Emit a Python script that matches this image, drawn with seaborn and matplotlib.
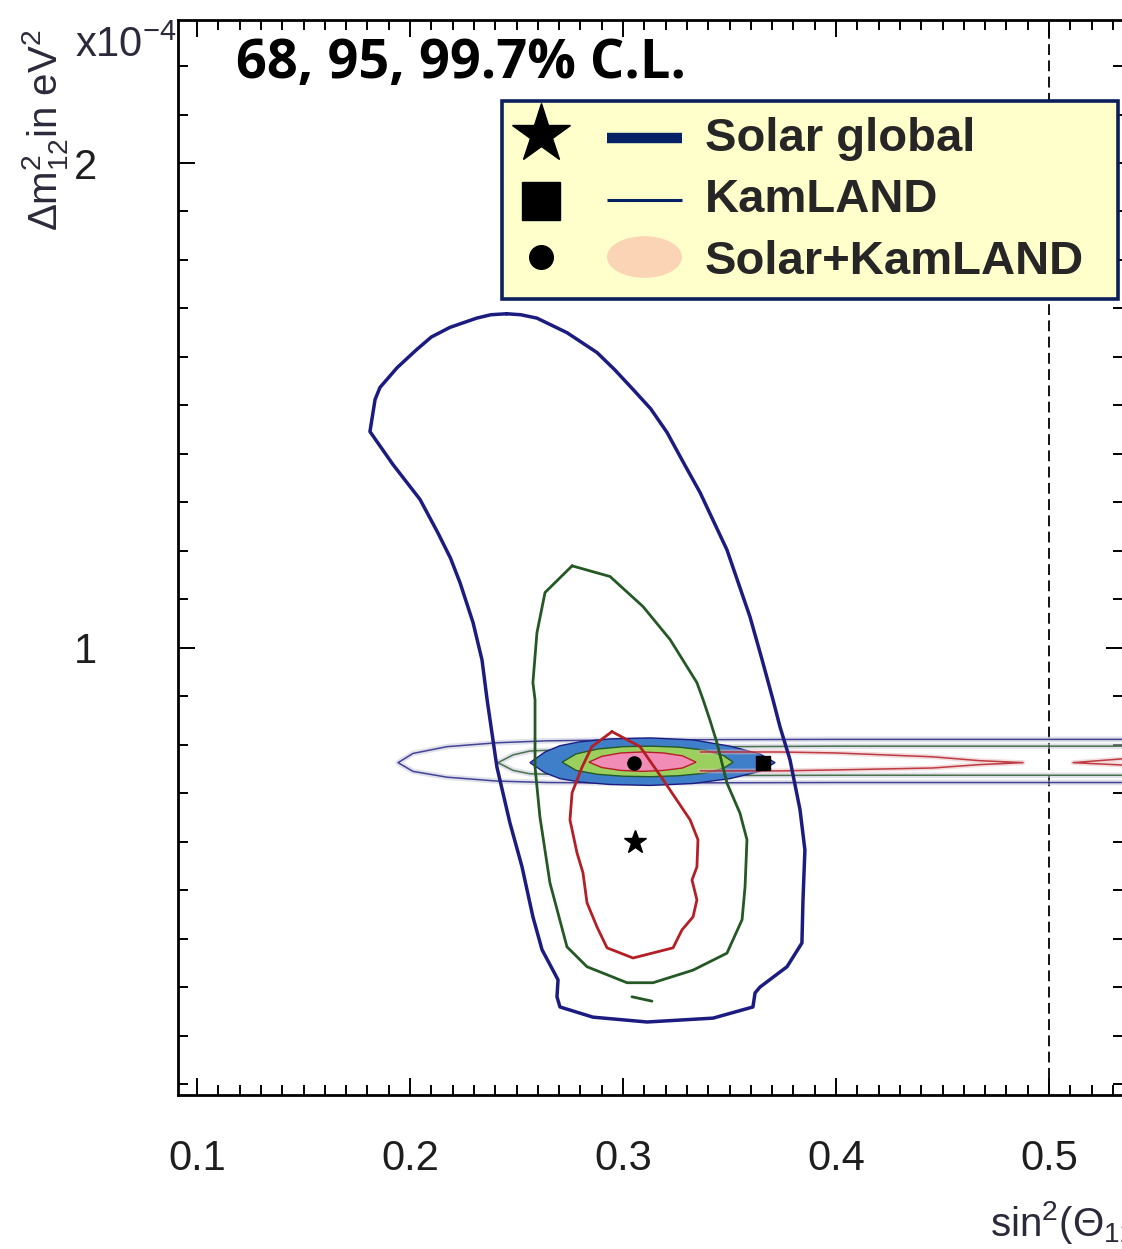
import numpy as np
import pandas as pd
import matplotlib
matplotlib.use("Agg")
import matplotlib.pyplot as plt
import seaborn as sns
from matplotlib import font_manager
from matplotlib.legend_handler import HandlerBase
from matplotlib.lines import Line2D
from matplotlib.patches import Ellipse
from matplotlib.ticker import MultipleLocator, FixedLocator

# ---------------------------------------------------------------------------
# Allowed regions in the (sin^2 theta12, dm^2_21 [1e-4 eV^2]) plane
# ---------------------------------------------------------------------------
# Solar global, 99.7% C.L.
solar997_x = [0.2454, 0.2380, 0.2313, 0.2188, 0.2100, 0.2031, 0.1940, 0.1859, 0.1836,
              0.1812, 0.1920, 0.2047, 0.2131, 0.2190, 0.2235, 0.2296, 0.2338, 0.2362,
              0.2408, 0.2469, 0.2526, 0.2577, 0.2620, 0.2695, 0.2690, 0.2704, 0.2859,
              0.3113, 0.3423, 0.3610, 0.3620, 0.3643, 0.3770, 0.3840, 0.3845, 0.3854,
              0.3831, 0.3784, 0.3737, 0.3704, 0.3650, 0.3596, 0.3488, 0.3362, 0.3280,
              0.3207, 0.3130, 0.3047, 0.2960, 0.2878, 0.2737, 0.2596, 0.2520]
solar997_y = [1.689, 1.687, 1.680, 1.661, 1.641, 1.615, 1.578, 1.537, 1.512,
              1.446, 1.378, 1.306, 1.237, 1.185, 1.134, 1.052, 0.975, 0.893,
              0.754, 0.639, 0.548, 0.445, 0.377, 0.315, 0.280, 0.259, 0.238,
              0.228, 0.236, 0.259, 0.288, 0.300, 0.342, 0.391, 0.480, 0.583,
              0.666, 0.769, 0.837, 0.893, 0.980, 1.064, 1.202, 1.320, 1.385,
              1.444, 1.493, 1.533, 1.574, 1.609, 1.650, 1.680, 1.687]

# Solar global, 95% C.L. (main region and a small island)
solar95_x = [0.2761, 0.2634, 0.2596, 0.2577, 0.2587, 0.2587, 0.2610, 0.2657, 0.2737,
             0.2831, 0.3019, 0.3141, 0.3329, 0.3488, 0.3559, 0.3573, 0.3582, 0.3549,
             0.3488, 0.3441, 0.3408, 0.3376, 0.3347, 0.3221, 0.3094, 0.2939]
solar95_y = [1.169, 1.114, 1.031, 0.928, 0.893, 0.754, 0.651, 0.515, 0.383,
             0.342, 0.309, 0.309, 0.335, 0.370, 0.439, 0.507, 0.604, 0.659,
             0.721, 0.804, 0.851, 0.893, 0.928, 1.017, 1.085, 1.147]
solar95_island_x = [0.3042, 0.3136]
solar95_island_y = [0.280, 0.271]

# Solar global, 68% C.L.
solar68_x = [0.2948, 0.2854, 0.2808, 0.2761, 0.2751, 0.2784, 0.2812, 0.2831, 0.2878,
             0.2925, 0.3047, 0.3235, 0.3277, 0.3329, 0.3347, 0.3324, 0.3347, 0.3352,
             0.3315, 0.3188, 0.3080]
solar68_y = [0.827, 0.796, 0.754, 0.701, 0.645, 0.577, 0.536, 0.474, 0.424,
             0.381, 0.360, 0.381, 0.418, 0.445, 0.480, 0.521, 0.548, 0.604,
             0.645, 0.728, 0.796]

# KamLAND (open towards large mixing)
kam997_x = [0.56, 0.40, 0.30, 0.2643, 0.2408, 0.2174, 0.2014, 0.1944,
            0.2014, 0.2174, 0.2408, 0.2643, 0.30, 0.40, 0.56]
kam997_y = [0.811, 0.811, 0.810, 0.808, 0.804, 0.796, 0.782, 0.763,
            0.745, 0.733, 0.725, 0.722, 0.721, 0.722, 0.722]
kam95_x = [0.56, 0.40, 0.30, 0.2563, 0.2484, 0.2413, 0.2484, 0.2563, 0.30, 0.40, 0.56]
kam95_y = [0.797, 0.797, 0.795, 0.787, 0.779, 0.763, 0.747, 0.740, 0.736, 0.737, 0.737]
kam68a_x = [0.3362, 0.3737, 0.4000, 0.4455, 0.4676, 0.4878,
            0.4676, 0.4455, 0.4000, 0.3737, 0.3362]
kam68a_y = [0.785, 0.785, 0.783, 0.775, 0.767, 0.763,
            0.759, 0.752, 0.748, 0.746, 0.746]
kam68b_x = [0.56, 0.535, 0.5113, 0.535, 0.56]
kam68b_y = [0.776, 0.771, 0.763, 0.758, 0.754]

# Solar + KamLAND (filled)
comb997_x = [0.2563, 0.2634, 0.2704, 0.2798, 0.2939, 0.3127, 0.3329, 0.3502, 0.3643,
             0.3714, 0.3643, 0.3502, 0.3329, 0.3127, 0.2939, 0.2798, 0.2704, 0.2634]
comb997_y = [0.763, 0.785, 0.798, 0.806, 0.812, 0.814, 0.810, 0.797, 0.781,
             0.763, 0.745, 0.730, 0.720, 0.716, 0.718, 0.723, 0.730, 0.742]
comb95_x = [0.2714, 0.2780, 0.2880, 0.3000, 0.3130, 0.3260, 0.3380, 0.3470,
            0.3517, 0.3470, 0.3380, 0.3260, 0.3130, 0.3000, 0.2880, 0.2780]
comb95_y = [0.764, 0.781, 0.791, 0.796, 0.797, 0.795, 0.789, 0.778,
            0.764, 0.751, 0.741, 0.736, 0.734, 0.735, 0.739, 0.747]
comb68_x = [0.2840, 0.2900, 0.2990, 0.3090, 0.3190, 0.3280,
            0.3343, 0.3280, 0.3190, 0.3090, 0.2990, 0.2900]
comb68_y = [0.764, 0.776, 0.783, 0.785, 0.783, 0.777,
            0.764, 0.752, 0.747, 0.745, 0.747, 0.753]

# Best-fit points
best_solar = (0.3056, 0.600)
best_kamland = (0.3657, 0.762)
best_combined = (0.3052, 0.762)

x_ticks = [0.1, 0.2, 0.3, 0.4, 0.5]
x_ticklabels = ["0.1", "0.2", "0.3", "0.4", "0.5"]
y_ticks = [1.0, 2.0]
y_ticklabels = ["1", "2"]
legend_labels = ["Solar global", "KamLAND", "Solar+KamLAND"]
title_text = "68, 95, 99.7% C.L."

# ---------------------------------------------------------------------------
NAVY = "#1c1c80"
GREEN = "#245824"
RED = "#b41f26"
FILL_BLUE = "#3f7ec8"
FILL_GREEN = "#9cd05e"
FILL_PINK = "#f08cb6"
BOX_EDGE = "#0b1f5c"
BOX_FACE = "#ffffcc"

sns.set_theme(style="white")
names = {f.name for f in font_manager.fontManager.ttflist}
narrow = "Liberation Sans Narrow" if "Liberation Sans Narrow" in names else "Liberation Sans"
plt.rcParams["font.family"] = [narrow, "DejaVu Sans"]
plt.rcParams["mathtext.fontset"] = "custom"
plt.rcParams["mathtext.rm"] = narrow
plt.rcParams["mathtext.it"] = narrow + ":italic"
plt.rcParams["mathtext.bf"] = narrow + ":bold"

W, H = 1122, 1249
fig = plt.figure(figsize=(W / 100, H / 100), dpi=100)
fig.patch.set_facecolor("white")
ax = fig.add_axes([178 / W, 1 - 1095 / H, (1123 - 178) / W, (1095 - 20) / H])
ax.set_facecolor("white")


def closed(xs, ys):
    return np.r_[xs, xs[:1]], np.r_[ys, ys[:1]]


def trace(xs, ys, color, lw, zorder, alpha=1.0):
    sns.lineplot(x=xs, y=ys, sort=False, estimator=None, color=color, lw=lw,
                 alpha=alpha, ax=ax, zorder=zorder, legend=False)


# KamLAND 99.7% / 95% outlines (thin, soft)
for xs, ys, c in [(kam997_x, kam997_y, NAVY), (kam95_x, kam95_y, GREEN)]:
    trace(xs, ys, "#c9c9dc", 4.0, 2, alpha=0.55)
    trace(xs, ys, c, 1.1, 2.1, alpha=0.8)

# Solar + KamLAND filled regions
for xs, ys, fc, ec in [(comb997_x, comb997_y, FILL_BLUE, NAVY),
                       (comb95_x, comb95_y, FILL_GREEN, GREEN),
                       (comb68_x, comb68_y, FILL_PINK, RED)]:
    cx, cy = closed(xs, ys)
    ax.fill(cx, cy, facecolor=fc, edgecolor=ec, lw=1.0, zorder=3)

# KamLAND 68% outlines
for xs, ys in [(kam68a_x, kam68a_y), (kam68b_x, kam68b_y)]:
    trace(xs, ys, "#e6b9bd", 3.5, 3.5, alpha=0.5)
    trace(xs, ys, RED, 1.1, 3.6, alpha=0.85)

# Solar global contours
for xs, ys, c, lw in [(solar997_x, solar997_y, NAVY, 2.5),
                      (solar95_x, solar95_y, GREEN, 2.0),
                      (solar68_x, solar68_y, RED, 2.0)]:
    cx, cy = closed(xs, ys)
    trace(cx, cy, c, lw, 5)
trace(solar95_island_x, solar95_island_y, GREEN, 2.0, 5)

# Best-fit markers
ax.plot(*best_solar, marker="*", ms=17, color="black", ls="none", zorder=6)
ax.plot(*best_combined, marker="o", ms=9.5, color="black", ls="none", zorder=6)
ax.plot(*best_kamland, marker="s", ms=9.5, color="black", ls="none", zorder=6)

# Maximal-mixing guide
ax.axvline(0.5, color="black", ls=(0, (6, 3)), lw=1.3, zorder=1)

# Axes, ticks
ax.set_xlim(0.09108, 0.53474)
ax.set_ylim(0.0774, 2.295)
ax.xaxis.set_major_locator(FixedLocator(x_ticks))
ax.yaxis.set_major_locator(FixedLocator(y_ticks))
ax.xaxis.set_minor_locator(MultipleLocator(0.01))
ax.yaxis.set_minor_locator(MultipleLocator(0.1))
ax.set_xticklabels(x_ticklabels)
ax.set_yticklabels(y_ticklabels)
ax.tick_params(which="both", direction="in", top=True, right=True, bottom=True,
               left=True, color="black", width=1.4, labelcolor="#1e1e1e")
ax.tick_params(which="major", length=12)
ax.tick_params(which="minor", length=7)
ax.tick_params(axis="x", which="major", labelsize=30, pad=32)
ax.tick_params(axis="y", which="major", labelsize=30, pad=58)
for side in ["left", "bottom", "top", "right"]:
    ax.spines[side].set_color("black")
    ax.spines[side].set_linewidth(2.0)
ax.set_xlabel("")
ax.set_ylabel("")

# Axis titles and exponent
fig.text(45 / W, 1 - 130 / H, "Δm$^2_{12}$in eV$^2$", rotation=90, ha="center",
         va="center", fontsize=29, color="#2a2a3a")
fig.text(126 / W, 1 - 46 / H, "x10$^{-4}$", ha="center", va="center",
         fontsize=30, color="#2a2a3a")
fig.text(990 / W, 1 - 1222 / H, "sin$^2$(Θ$_{12}$)", ha="left", va="center",
         fontsize=29, color="#2a2a3a")

# Title
fig.text(461 / W, 1 - 64 / H, title_text, ha="center", va="center",
         fontsize=39, fontweight="bold", family=["Open Sans", "DejaVu Sans"],
         color="black")


# Legend: a marker plus a line/ellipse swatch per entry
class LegendKey:
    def __init__(self, marker, msize, kind, lw=0.0, dy=0.0):
        self.marker, self.msize, self.kind, self.lw, self.dy = marker, msize, kind, lw, dy


class KeyHandler(HandlerBase):
    def create_artists(self, legend, key, xd, yd, width, height, fontsize, trans):
        yc = height / 2 - yd
        mk = Line2D([-xd + 0.14 * width], [yc + key.dy], marker=key.marker,
                    ms=key.msize, color="black", ls="none", transform=trans)
        if key.kind == "ellipse":
            sw = Ellipse((-xd + 0.77 * width, yc), width=0.455 * width, height=30,
                         facecolor="#fbd4b6", edgecolor="none", transform=trans)
        else:
            sw = Line2D([-xd + 0.545 * width, -xd + width], [yc - 3, yc - 3],
                        color="#062266", lw=key.lw, solid_capstyle="butt",
                        transform=trans)
        return [sw, mk]


keys = [LegendKey("*", 44, "line", lw=7.5),
        LegendKey("s", 27, "line", lw=2.2, dy=-4),
        LegendKey("o", 17, "ellipse")]
leg = ax.legend(keys, legend_labels, handler_map={LegendKey: KeyHandler()},
                loc="upper left", bbox_to_anchor=(502 / W, 1 - 297 / H, 616 / W, 196 / H),
                bbox_transform=fig.transFigure, borderaxespad=0, mode="expand",
                prop={"family": "Liberation Sans", "weight": "bold", "size": 34},
                handlelength=3.49, handletextpad=0.47, borderpad=0.33,
                labelspacing=0.37, fancybox=False, framealpha=1.0)
frame = leg.get_frame()
frame.set_facecolor(BOX_FACE)
frame.set_edgecolor(BOX_EDGE)
frame.set_linewidth(2.6)
leg.set_zorder(10)

fig.savefig("out.png", dpi=100, facecolor="white")
